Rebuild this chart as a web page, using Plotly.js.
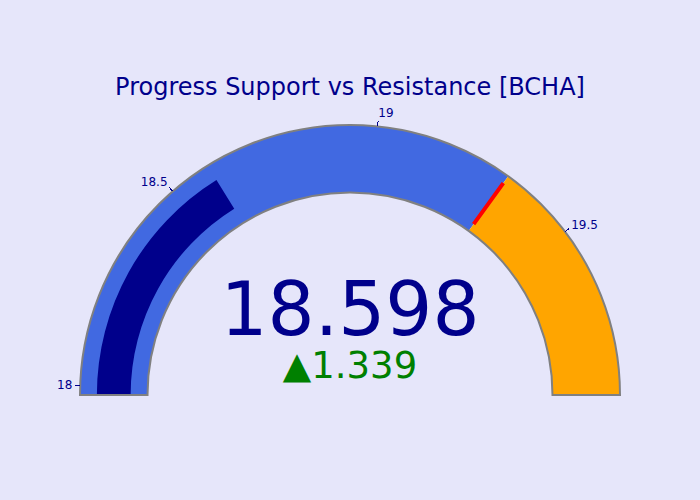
<!DOCTYPE html>
<html>
<head>
<meta charset="utf-8">
<script src="https://cdn.plot.ly/plotly-3.0.1.min.js"></script>
<style>html,body{margin:0;padding:0;}#chart{width:700px;height:500px;}</style>
</head>
<body>
<div id="chart"></div>
<script>
/* gauge: current price vs support / resistance */
const TITLE = 'Progress Support vs Resistance [BCHA]';
const VALUE = 18.598;
const REFERENCE = 17.259;
const AXIS_RANGE = [17.978, 19.897];
const STEP_RANGES = [[17.978, 19.32], [19.32, 19.897]];
const STEP_COLORS = ['royalblue', 'orange'];
const THRESHOLD = 19.32;

const trace = {
  type: 'indicator',
  mode: 'gauge+number+delta',
  value: VALUE,
  title: { text: TITLE, font: { size: 24 } },
  number: { font: { size: 74 } },
  delta: { reference: REFERENCE, increasing: { color: 'green' }, font: { size: 37 } },
  domain: { x: [0, 1], y: [0, 1] },
  gauge: {
    axis: { range: AXIS_RANGE, tickwidth: 1, tickcolor: 'darkblue' },
    bar: { color: 'darkblue', thickness: 0.5 },
    bgcolor: 'white',
    borderwidth: 2,
    bordercolor: 'gray',
    steps: STEP_RANGES.map((r, i) => ({ range: r, color: STEP_COLORS[i] })),
    threshold: { line: { color: 'red', width: 4 }, thickness: 0.75, value: THRESHOLD },
  },
};

Plotly.newPlot('chart', [trace], {
  width: 700, height: 500,
  paper_bgcolor: 'lavender',
  font: { color: 'darkblue', family: 'DejaVu Sans, sans-serif' },
  margin: { l: 80, r: 80, t: 100, b: 80 },
}, { displayModeBar: false });
</script>
</body>
</html>
